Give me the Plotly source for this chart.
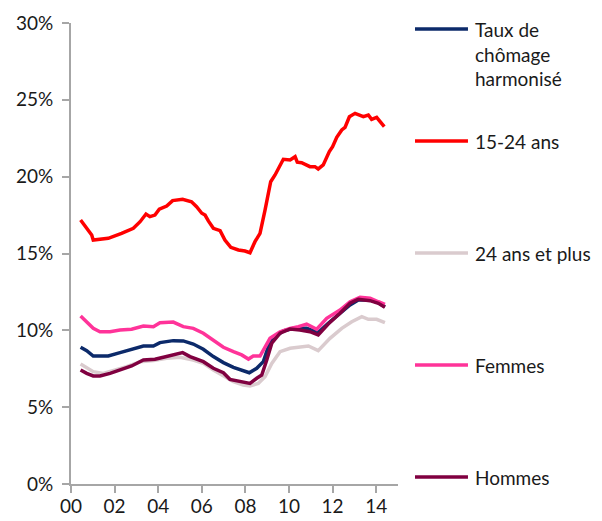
import plotly.graph_objects as go

# ---- data ----
series_names = ["Taux de<br>chômage<br>harmonisé", "15-24 ans", "24 ans et plus", "Femmes", "Hommes"]

taux_x = [2000.44, 2000.72, 2001.02, 2001.71, 2002.25, 2002.78, 2003.32, 2003.78, 2004.08, 2004.69,
          2005.15, 2005.61, 2006.07, 2006.53, 2006.99, 2007.45, 2007.83, 2008.18, 2008.52, 2008.82,
          2009.05, 2009.28, 2009.74, 2010.2, 2010.81, 2011.34, 2011.8, 2012.34, 2012.8, 2013.18,
          2013.72, 2014.1, 2014.4]
taux_y = [8.9, 8.68, 8.33, 8.33, 8.55, 8.77, 8.98, 8.98, 9.2, 9.33,
          9.31, 9.11, 8.77, 8.29, 7.9, 7.59, 7.42, 7.24, 7.53, 7.96,
          8.94, 9.48, 9.96, 10.13, 10.13, 9.85, 10.46, 11.11, 11.65, 11.97,
          11.97, 11.8, 11.54]

jeunes_x = [2000.44, 2000.72, 2000.95, 2001.02, 2001.33, 2001.71, 2002.32, 2002.86, 2003.17, 2003.44,
            2003.62, 2003.85, 2004.05, 2004.39, 2004.66, 2005.12, 2005.53, 2005.76, 2006.0, 2006.15,
            2006.3, 2006.53, 2006.84, 2007.06, 2007.33, 2007.68, 2007.98, 2008.21, 2008.44, 2008.67,
            2008.9, 2009.16, 2009.36, 2009.51, 2009.74, 2010.05, 2010.28, 2010.38, 2010.58, 2010.96,
            2011.19, 2011.34, 2011.57, 2011.85, 2012.0, 2012.19, 2012.42, 2012.57, 2012.77, 2013.03,
            2013.41, 2013.64, 2013.79, 2014.02, 2014.2, 2014.37]
jeunes_y = [17.18, 16.64, 16.2, 15.88, 15.92, 15.99, 16.31, 16.64, 17.07, 17.57,
            17.4, 17.5, 17.88, 18.09, 18.44, 18.53, 18.37, 18.05, 17.62, 17.5,
            17.12, 16.64, 16.49, 15.88, 15.4, 15.23, 15.16, 15.05, 15.77, 16.31,
            17.83, 19.67, 20.11, 20.55, 21.13, 21.09, 21.3, 20.94, 20.91, 20.65,
            20.65, 20.5, 20.76, 21.63, 21.95, 22.56, 23.04, 23.21, 23.9, 24.12,
            23.9, 24.01, 23.73, 23.86, 23.51, 23.25]

plus24_x = [2000.44, 2000.72, 2001.02, 2001.48, 2001.94, 2002.55, 2003.17, 2003.78, 2004.39, 2005.0,
            2005.61, 2006.07, 2006.53, 2006.99, 2007.45, 2007.9, 2008.21, 2008.59, 2008.9, 2009.21,
            2009.59, 2010.05, 2010.5, 2010.89, 2011.34, 2011.88, 2012.42, 2012.88, 2013.34, 2013.64,
            2014.02, 2014.4]
plus24_y = [7.81, 7.59, 7.31, 7.2, 7.37, 7.63, 7.96, 8.03, 8.18, 8.25,
            8.07, 7.85, 7.42, 7.03, 6.66, 6.44, 6.38, 6.55, 6.98, 7.85,
            8.61, 8.83, 8.9, 8.98, 8.68, 9.48, 10.13, 10.56, 10.89, 10.72,
            10.72, 10.5]

femmes_x = [2000.44, 2000.72, 2001.02, 2001.33, 2001.79, 2002.25, 2002.78, 2003.32, 2003.78, 2004.08,
            2004.69, 2005.15, 2005.61, 2006.07, 2006.53, 2006.99, 2007.45, 2007.83, 2008.14, 2008.36,
            2008.67, 2008.9, 2009.13, 2009.59, 2010.05, 2010.43, 2010.81, 2011.27, 2011.73, 2012.34,
            2012.8, 2013.26, 2013.72, 2014.1, 2014.4]
femmes_y = [10.93, 10.56, 10.13, 9.91, 9.91, 10.02, 10.07, 10.28, 10.24, 10.5,
            10.54, 10.24, 10.13, 9.81, 9.37, 8.9, 8.61, 8.4, 8.13, 8.33,
            8.33, 8.94, 9.48, 9.91, 10.13, 10.24, 10.41, 10.07, 10.78, 11.32,
            11.86, 12.15, 12.09, 11.86, 11.69]

hommes_x = [2000.44, 2000.72, 2001.02, 2001.33, 2001.79, 2002.25, 2002.78, 2003.32, 2003.85, 2004.24,
            2004.69, 2005.12, 2005.46, 2006.07, 2006.53, 2006.99, 2007.29, 2007.75, 2008.21, 2008.52,
            2008.75, 2008.98, 2009.21, 2009.59, 2010.05, 2010.5, 2010.96, 2011.34, 2011.8, 2012.34,
            2012.8, 2013.18, 2013.72, 2014.1, 2014.4]
hommes_y = [7.42, 7.2, 7.03, 7.03, 7.2, 7.42, 7.68, 8.07, 8.12, 8.25,
            8.4, 8.55, 8.29, 7.96, 7.53, 7.24, 6.81, 6.66, 6.55, 6.88,
            7.09, 8.07, 9.16, 9.81, 10.09, 10.02, 9.91, 9.7, 10.41, 11.11,
            11.76, 12.02, 11.93, 11.76, 11.5]

x_tick_vals = [2000, 2002, 2004, 2006, 2008, 2010, 2012, 2014]
x_tick_text = ["00", "02", "04", "06", "08", "10", "12", "14"]
y_tick_vals = [0, 5, 10, 15, 20, 25, 30]
y_tick_text = ["0%", "5%", "10%", "15%", "20%", "25%", "30%"]

colors = ["#0C2A6A", "#FF0000", "#DACBCE", "#FF3399", "#800040"]
xs = [taux_x, jeunes_x, plus24_x, femmes_x, hommes_x]
ys = [taux_y, jeunes_y, plus24_y, femmes_y, hommes_y]

FONT = "Lato"
FS = 19
fig = go.Figure()
for name, x, y, c in zip(series_names, xs, ys, colors):
    fig.add_trace(go.Scatter(x=x, y=y, mode="lines", name=name.replace("<br>", " "),
                             line=dict(color=c, width=3.5), showlegend=False))

# legend drawn beside the plot
leg_y = [0.987, 0.744, 0.501, 0.258, 0.015]
for name, c, ly in zip(series_names, colors, leg_y):
    fig.add_shape(type="line", xref="paper", yref="paper", x0=1.052, x1=1.214, y0=ly, y1=ly,
                  line=dict(color=c, width=3.5))
    multi = "<br>" in name
    fig.add_annotation(xref="paper", yref="paper", x=1.229, y=(ly + 0.028) if multi else ly,
                       text=name, showarrow=False, xanchor="left",
                       yanchor="top" if multi else "middle", align="left",
                       font=dict(family=FONT, size=FS, color="#1a1a1a"))

axis_common = dict(showgrid=False, zeroline=False, showline=True, linecolor="#A6A6A6", linewidth=2,
                   ticks="outside", ticklen=7, tickwidth=2, tickcolor="#A6A6A6", automargin=False,
                   tickfont=dict(family=FONT, size=FS, color="#1a1a1a"))
fig.update_xaxes(range=[2000, 2015], tickvals=x_tick_vals, ticktext=x_tick_text,
                 ticklabelstandoff=-3, **axis_common)
fig.update_yaxes(range=[0, 30], tickvals=y_tick_vals, ticktext=y_tick_text,
                 ticklabelstandoff=5, **axis_common)

# the page adds an 8 px body margin, so the figure is 8 px smaller on each offset side
fig.update_layout(width=594, height=513, margin=dict(l=63, r=204, t=15, b=37),
                  plot_bgcolor="white", paper_bgcolor="white", showlegend=False,
                  font=dict(family=FONT))
fig.write_html("out.html")
